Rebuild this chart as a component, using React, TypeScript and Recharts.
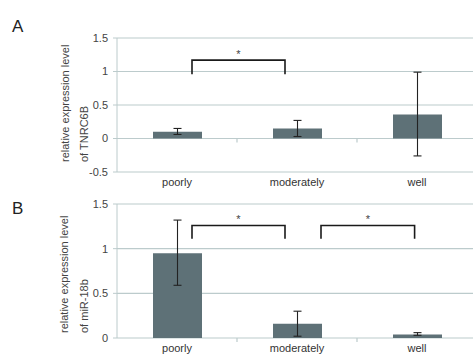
import { BarChart, Bar, XAxis, YAxis, CartesianGrid, ErrorBar, ReferenceLine } from 'recharts';

const grades = ['poorly', 'moderately', 'well'];

// panel A: TNRC6B
const tnrc6bMean = [0.1, 0.15, 0.36];
const tnrc6bLow = [0.06, 0.03, -0.26];
const tnrc6bHigh = [0.15, 0.27, 0.99];
const tnrc6bTicks = [-0.5, 0, 0.5, 1, 1.5];

// panel B: miR-18b
const mir18bMean = [0.95, 0.16, 0.04];
const mir18bLow = [0.59, 0.02, 0.03];
const mir18bHigh = [1.32, 0.3, 0.06];
const mir18bTicks = [0, 0.5, 1, 1.5];

// significance brackets, x in category units (category i spans i..i+1), y in data units
const tnrc6bBrackets = [{ from: 0.625, to: 1.4, top: 1.17, base: 0.96 }];
const mir18bBrackets = [
    { from: 0.625, to: 1.4, top: 1.26, base: 1.11 },
    { from: 1.7, to: 2.48, top: 1.26, base: 1.11 },
];

const BAR = '#5e7177';
const GRID = '#bccbcc';
const FONT = '"Liberation Sans", Arial, sans-serif';

function rows(mean: number[], low: number[], high: number[]) {
    return grades.map((g, i) => ({ name: g, value: mean[i], err: [mean[i] - low[i], high[i] - mean[i]] }));
}

interface Bracket { from: number; to: number; top: number; base: number }

// the reference segment runs from the first to the last category centre (top -> base),
// so the band width and y pixels come from the chart's own scales
function BracketPath(props: any) {
    const { x1, y1, x2, y2, b } = props;
    const unit = (x2 - x1) / (grades.length - 1);
    const origin = x1 - unit / 2;
    const l = origin + b.from * unit;
    const r = origin + b.to * unit;
    return (
        <g>
            <path d={`M${l},${y2}V${y1}H${r}V${y2}`} fill="none" stroke="#1a1a1a" strokeWidth={1.6} />
            <text x={(l + r) / 2} y={y1 - 2} textAnchor="middle" fontSize={11} fill="#444" fontFamily={FONT}>*</text>
        </g>
    );
}

// small category-boundary ticks hanging from the zero line
function ZeroTicks(props: any) {
    const { x1, y1, x2 } = props;
    const unit = (x2 - x1) / (grades.length - 1);
    const origin = x1 - unit / 2;
    const d = grades.slice(1).map((_, i) => `M${origin + (i + 1) * unit},${y1}v4`).join('');
    return <path d={d} stroke={GRID} strokeWidth={1.2} fill="none" />;
}

function Panel({ data, ticks, domain, brackets, height, top, axisHeight }: {
    data: any[]; ticks: number[]; domain: [number, number]; brackets: Bracket[]; height: number; top: number; axisHeight: number;
}) {
    return (
        <BarChart width={480} height={height} data={data} margin={{ top, right: 3, bottom: 0, left: 0 }}>
            <CartesianGrid vertical={false} stroke={GRID} strokeWidth={1.2} />
            <XAxis dataKey="name" axisLine={false} tickLine={false} tickSize={0} tickMargin={6} height={axisHeight}
                tick={{ fontSize: 11, fill: '#333', fontFamily: FONT }} interval={0} />
            <YAxis width={117} domain={domain} ticks={ticks} stroke={GRID} tickSize={4} tickMargin={5}
                tick={{ fontSize: 11, fill: '#444', fontFamily: FONT }} interval={0} />
            <ReferenceLine segment={[{ x: grades[0], y: 0 }, { x: grades[grades.length - 1], y: 0 }]}
                ifOverflow="visible" shape={(p: any) => <ZeroTicks {...p} />} />
            <Bar dataKey="value" fill={BAR} barSize={49} isAnimationActive={false}>
                <ErrorBar dataKey="err" width={4} stroke="#222" strokeWidth={1.1} />
            </Bar>
            {brackets.map((b, i) => (
                <ReferenceLine key={i}
                    segment={[{ x: grades[0], y: b.top }, { x: grades[grades.length - 1], y: b.base }]}
                    shape={(p: any) => <BracketPath {...p} b={b} />} />
            ))}
        </BarChart>
    );
}

export default function App() {
    return (
        <div style={{ position: 'relative', width: 473, height: 355, overflow: 'hidden', background: '#fff', fontFamily: FONT }}>
            <style>{'body{margin:0}'}</style>
            <div style={{ position: 'absolute', left: 0, top: 0 }}>
                <Panel data={rows(tnrc6bMean, tnrc6bLow, tnrc6bHigh)} ticks={tnrc6bTicks} domain={[-0.5, 1.5]}
                    brackets={tnrc6bBrackets} height={190} top={38} axisHeight={18} />
            </div>
            <div style={{ position: 'absolute', left: 0, top: 180 }}>
                <Panel data={rows(mir18bMean, mir18bLow, mir18bHigh)} ticks={mir18bTicks} domain={[0, 1.5]}
                    brackets={mir18bBrackets} height={175} top={24} axisHeight={17} />
            </div>
            <svg width={473} height={355} style={{ position: 'absolute', left: 0, top: 0, pointerEvents: 'none' }}>
                <text x={12} y={32} fontSize={17} fill="#222" fontFamily={FONT}>A</text>
                <text x={12} y={214} fontSize={17} fill="#222" fontFamily={FONT}>B</text>
                <g fontSize={11} fill="#444" fontFamily={FONT}>
                    <text transform="translate(69,162) rotate(-90)">relative expression level</text>
                    <text transform="translate(88,162) rotate(-90)">of TNRC6B</text>
                    <text transform="translate(68,333) rotate(-90)">relative expression level</text>
                    <text transform="translate(88,333) rotate(-90)">of miR-18b</text>
                </g>
            </svg>
        </div>
    );
}
